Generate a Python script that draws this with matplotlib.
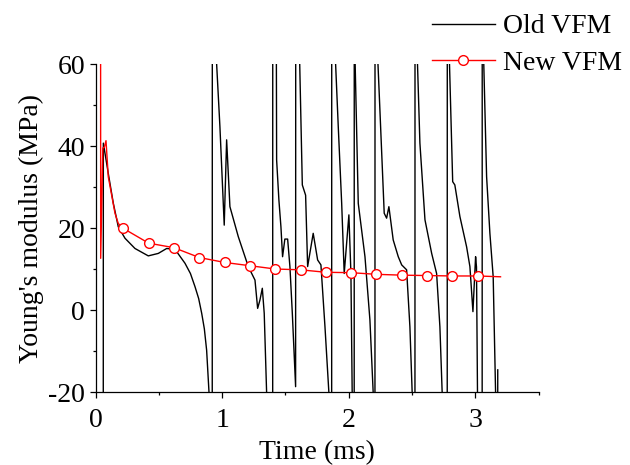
import matplotlib
matplotlib.use("Agg")
import matplotlib.pyplot as plt
from matplotlib.ticker import MultipleLocator

plt.rcParams['font.family'] = ['Liberation Serif', 'DejaVu Serif']
plt.rcParams['font.size'] = 20
plt.rcParams['axes.unicode_minus'] = False

# Old VFM (black) -- values off-scale (+/-400) represent the singular jumps
old_t = [0.050, 0.058, 0.062, 0.101, 0.141, 0.180, 0.233, 0.312, 0.417, 0.496,
         0.562, 0.628, 0.707, 0.750, 0.786, 0.815, 0.839, 0.860, 0.878, 0.897, 0.920, 0.925,
         0.957, 0.983, 1.017, 1.036, 1.062, 1.128, 1.207, 1.260, 1.281, 1.299,
         1.318, 1.333, 1.352, 1.398, 1.402,
         1.431, 1.449, 1.465, 1.478, 1.496, 1.518, 1.536, 1.555, 1.581, 1.585,
         1.612, 1.634, 1.660, 1.676, 1.720, 1.755, 1.781, 1.813, 1.844, 1.864, 1.868,
         1.897, 1.918, 1.945, 1.965, 2.002, 2.018, 2.028, 2.042, 2.046,
         2.050, 2.076, 2.129, 2.168, 2.194, 2.206, 2.210,
         2.229, 2.247, 2.281, 2.300, 2.318, 2.352, 2.392, 2.419, 2.458, 2.484, 2.502,
         2.522, 2.526,
         2.542, 2.563, 2.603, 2.656, 2.695, 2.721, 2.739, 2.777, 2.781,
         2.795, 2.822, 2.839, 2.879, 2.932, 2.958, 2.982, 3.003, 3.010, 3.018,
         3.053, 3.057,
         3.066, 3.090, 3.116, 3.142, 3.161, 3.170, 3.178]
old_v = [-400, -400, 40.7, 33.3, 26.0, 20.3, 17.5, 15.0, 13.2, 13.8,
         15.0, 14.8, 11.4, 8.9, 5.7, 2.8, -0.8, -4.6, -9.8, -20.2, -400, 400,
         60.0, 44.7, 20.7, 41.5, 25.2, 17.9, 10.6, 7.3, 0.4, 2.4,
         5.3, -0.8, -20.2, -400, 400,
         36.6, 26.8, 20.3, 13.0, 17.3, 17.3, 10.6, -0.8, -18.7, 400,
         62.0, 30.5, 28.0, 10.6, 18.7, 12.2, 11.0, -4.1, -20.2, -400, 400,
         60.0, 44.7, 26.0, 8.9, 23.2, 8.9, -20.2, -400, 400,
         62.0, 26.0, 13.0, -2.4, -20.2, -400, 400,
         62.0, 48.8, 23.6, 22.4, 25.2, 17.1, 13.0, 11.0, 9.8, -4.1, -20.2,
         -400, 400,
         62.0, 40.7, 22.0, 13.8, 8.9, -4.1, -20.2, -400, 400,
         62.0, 31.3, 30.5, 22.8, 15.4, 10.6, -0.4, 13.0, 10.5, -20.2,
         -400, 400,
         62.0, 32.5, 18.7, 8.1, -20.2, -400, -14.6]

# New VFM (red)
new_t = [0.036, 0.041, 0.058, 0.070, 0.083, 0.101, 0.154, 0.180,
         0.22, 0.42, 0.62, 0.82, 1.02, 1.22, 1.42, 1.62, 1.82, 2.02,
         2.22, 2.42, 2.62, 2.82, 3.02, 3.20]
new_v = [400, 12.6, 39.5, 39.7, 41.3, 32.5, 23.6, 21.1,
         19.9, 16.3, 15.2, 12.8, 11.6, 10.8, 10.0, 9.8, 9.2, 9.1,
         8.7, 8.5, 8.4, 8.3, 8.3, 8.1]
new_marker_idx = list(range(8, 23))

xticks = [0, 1, 2, 3]
yticks = [-20, 0, 20, 40, 60]

fig = plt.figure(figsize=(6.3, 4.65), dpi=100)
ax = fig.add_axes([95.5 / 630, 1 - 392 / 465, (538.5 - 95.5) / 630, (392 - 64) / 465])

ax.plot(old_t, old_v, color='black', lw=1.0, label='Old VFM')
ax.plot(new_t, new_v, color='red', lw=1.0, marker='o', markersize=7,
        markerfacecolor='white', markeredgecolor='red', markeredgewidth=1.0,
        markevery=new_marker_idx, label='New VFM')

ax.set_xlim(0, 3.5)
ax.set_ylim(-20, 60)
ax.set_xticks(xticks)
ax.set_yticks(yticks)
ax.xaxis.set_minor_locator(MultipleLocator(0.5))
ax.yaxis.set_minor_locator(MultipleLocator(10))
ax.spines['top'].set_visible(False)
ax.spines['right'].set_visible(False)
for s in ('left', 'bottom'):
    ax.spines[s].set_linewidth(0.9)
ax.tick_params(which='major', direction='out', length=4.5, width=0.9)
ax.tick_params(axis='y', which='major', pad=3)
ax.tick_params(axis='x', which='major', pad=7)
ax.tick_params(which='minor', direction='out', length=2.3, width=0.9)
ax.set_xlabel('Time (ms)', labelpad=5)
ax.set_ylabel("Young's modulus (MPa)", labelpad=3)

fig.legend(loc='upper left', bbox_to_anchor=(432 / 630, 1 - 14 / 465),
           frameon=False, borderpad=0, borderaxespad=0, handlelength=2.25,
           handletextpad=0.3, labelspacing=0.4)

fig.savefig('out.png', dpi=100)
